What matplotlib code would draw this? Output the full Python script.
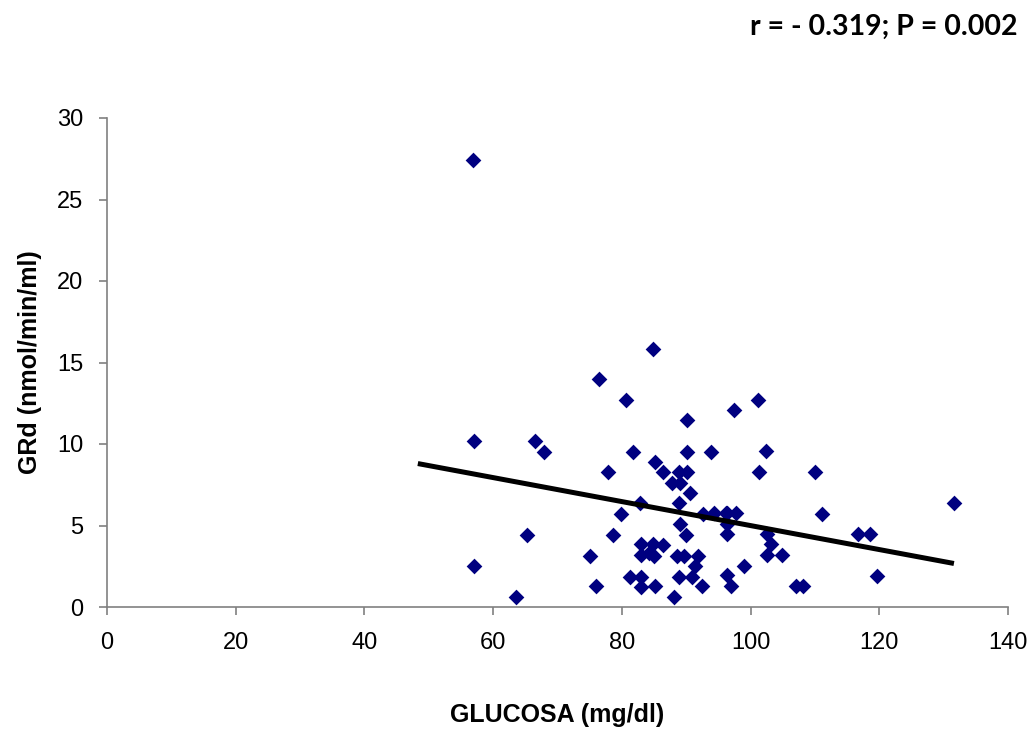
import matplotlib
matplotlib.use("Agg")
import matplotlib.pyplot as plt

glucosa = [56.9, 57.1, 57.1, 63.5, 65.3, 66.5, 67.9, 75.1, 76.0, 76.5, 77.8, 78.7,
           79.9, 80.6, 81.2, 81.8, 82.8, 82.9, 83.0, 83.0, 83.0, 84.2, 84.85, 84.85,
           85.0, 85.2, 85.2, 86.4, 86.4, 87.8, 88.07, 88.5, 88.85, 88.9, 88.95, 89.05,
           89.1, 89.7, 90.0, 90.1, 90.1, 90.15, 90.6, 90.9, 91.3, 91.9, 92.5, 92.6,
           94.3, 93.8, 96.2, 96.3, 96.3, 96.3, 96.3, 96.9, 97.5, 97.7, 99.0, 101.2,
           101.3, 102.4, 102.5, 102.5, 103.1, 104.9, 107.0, 108.1, 110.0, 111.1,
           116.7, 118.5, 119.7, 131.6]
grd = [27.4, 10.18, 2.53, 0.64, 4.43, 10.18, 9.53, 3.14, 1.26, 14.0, 8.26, 4.43,
       5.72, 12.7, 1.87, 9.53, 6.36, 3.88, 3.2, 1.87, 1.22, 3.3, 15.8, 3.88,
       3.1, 8.9, 1.26, 8.26, 3.82, 7.6, 0.64, 3.14, 1.87, 6.36, 8.3, 7.6,
       5.07, 3.14, 4.43, 11.46, 9.53, 8.26, 6.97, 1.87, 2.5, 3.14, 1.26, 5.72,
       5.76, 9.5, 5.76, 5.1, 4.45, 1.96, 5.76, 1.26, 12.1, 5.76, 2.53, 12.73,
       8.28, 9.55, 4.45, 3.16, 3.84, 3.16, 1.26, 1.26, 8.28, 5.72,
       4.45, 4.45, 1.9, 6.38]

trend_x = [48.3, 131.6]
trend_y = [8.8, 2.67]

x_ticks = [0, 20, 40, 60, 80, 100, 120, 140]
y_ticks = [0, 5, 10, 15, 20, 25, 30]

plt.rcParams['font.family'] = ['Liberation Sans', 'DejaVu Sans']

fig = plt.figure(figsize=(10.36, 7.29), dpi=100)
ax = fig.add_axes([107/1036, 1 - 607/729, (1008-107)/1036, (607-118)/729])

ax.scatter(glucosa, grd, marker='D', s=64, color='#000080', zorder=3, linewidths=0)
ax.plot(trend_x, trend_y, color='black', linewidth=3.6, zorder=4, solid_capstyle='butt')

ax.set_xlim(0, 140)
ax.set_ylim(0, 30)
ax.set_xticks(x_ticks)
ax.set_yticks(y_ticks)
for s in ['top', 'right']:
    ax.spines[s].set_visible(False)
for s in ['left', 'bottom']:
    ax.spines[s].set_color('#808080')
    ax.spines[s].set_linewidth(1.2)
ax.tick_params(axis='both', direction='out', length=6, width=1.2, color='#808080',
               labelsize=17, labelcolor='black')
ax.tick_params(axis='x', pad=12)
ax.tick_params(axis='y', pad=11)

ax.set_xlabel('GLUCOSA (mg/dl)', fontsize=18, fontweight='bold', labelpad=35)
ax.set_ylabel('GRd (nmol/min/ml)', fontsize=18, fontweight='bold', labelpad=11)

fig.text(1018/1036, 1 - 27/729, 'r = - 0.319; P = 0.002', ha='right', va='center',
         fontsize=20.5, fontweight='bold', family=['Lato', 'Liberation Sans'])

fig.savefig('out.png', dpi=100, facecolor='white')
